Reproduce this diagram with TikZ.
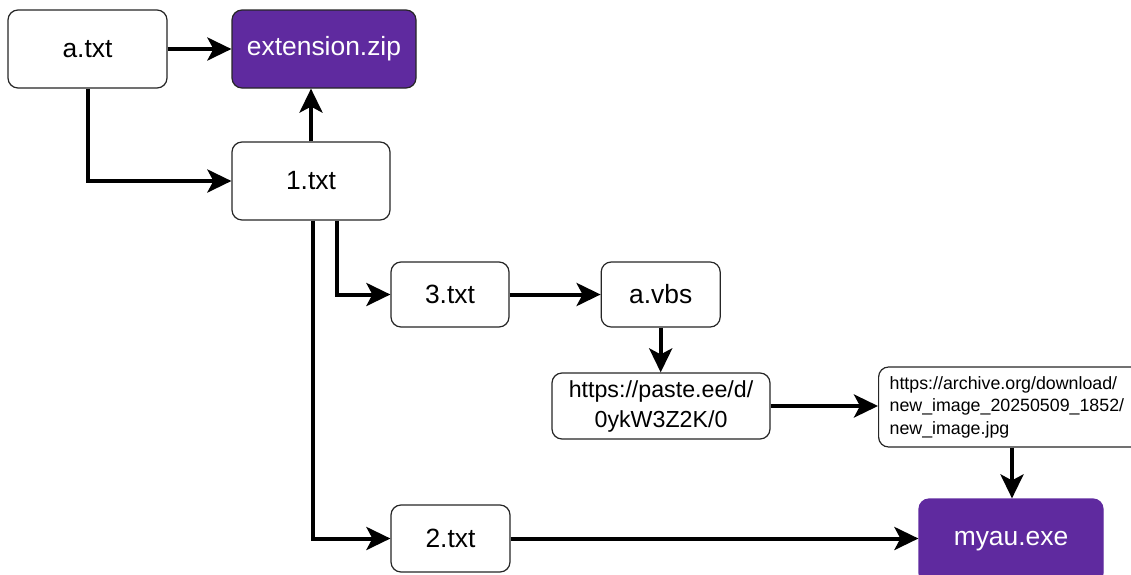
\documentclass[tikz,border=0pt]{standalone}
\usepackage{fontspec}
\setmainfont{Liberation Sans}
\usetikzlibrary{arrows.meta,positioning}
\definecolor{darkviolet}{HTML}{5F2A9F}

\begin{document}
\begin{tikzpicture}[x=0.5pt,y=-0.5pt,->,>={Stealth[length=12pt,width=11.5pt,inset=3pt]},line width=2pt,
                    filenode/.style={rectangle, rounded corners=5pt, draw=black!85, line width=0.6pt, fill=white, inner sep=0pt,
                                     minimum height=39pt, font=\fontsize{13.2}{16}\selectfont},
                    payloadnode/.style={filenode, fill=darkviolet, text=white}]
      \tikzstyle{urlnode}=[filenode, align=center, font=\fontsize{11.6}{15}\selectfont]
      \path[use as bounding box] (0,0) rectangle (1131,574);
      \clip (0,0) rectangle (1131,574);

      \node[filenode, minimum width=79.5pt]           (A) at (87.5,49)  {a.txt};
      \node[payloadnode, minimum width=92pt]          (Z) at (324,49)   {extension.zip};
      \node[filenode, minimum width=79pt]             (B) at (311,181)  {1.txt};
      \node[filenode, minimum width=59pt, minimum height=32.5pt]   (D) at (450,294.5) {3.txt};
      \node[filenode, minimum width=59.5pt, minimum height=32.5pt] (V) [right=45.5pt of D] {a.vbs};
      \node[urlnode, minimum width=109pt, minimum height=33pt]     (P) at (661,406) {https://paste.ee/d/\\0ykW3Z2K/0};
      \node[filenode, anchor=west, align=left, text width=130pt, inner xsep=5.5pt, minimum height=40pt,
            font=\fontsize{8.9}{11.3}\selectfont]   (R) at (878,407)
            {https://archive.org/download/\\new\_image\_20250509\_1852/\\new\_image.jpg};
      \node[filenode, minimum width=59.5pt, minimum height=33.5pt] (C) at (450.5,538.5) {2.txt};
      \node[payloadnode, draw=darkviolet, minimum width=92pt, minimum height=42pt] (M) at (1011,541) {myau.exe};

      \draw (A) -- (Z);
      \draw (A) |- (B);
      \draw (B.north) -- (B.north |- Z.south);
      \draw ([xshift=13pt]B.south) |- (D);
      \draw ([xshift=1pt]B.south) |- (C);
      \draw (D) -- (V);
      \draw (V.south) -- (V.south |- P.north);
      \draw (P) -- (P -| R.west);
      \draw ([xshift=67pt]R.south west) -- ([xshift=67pt]R.south west |- M.north);
      \draw (C) -- (C -| M.west);
\end{tikzpicture}
\end{document}
